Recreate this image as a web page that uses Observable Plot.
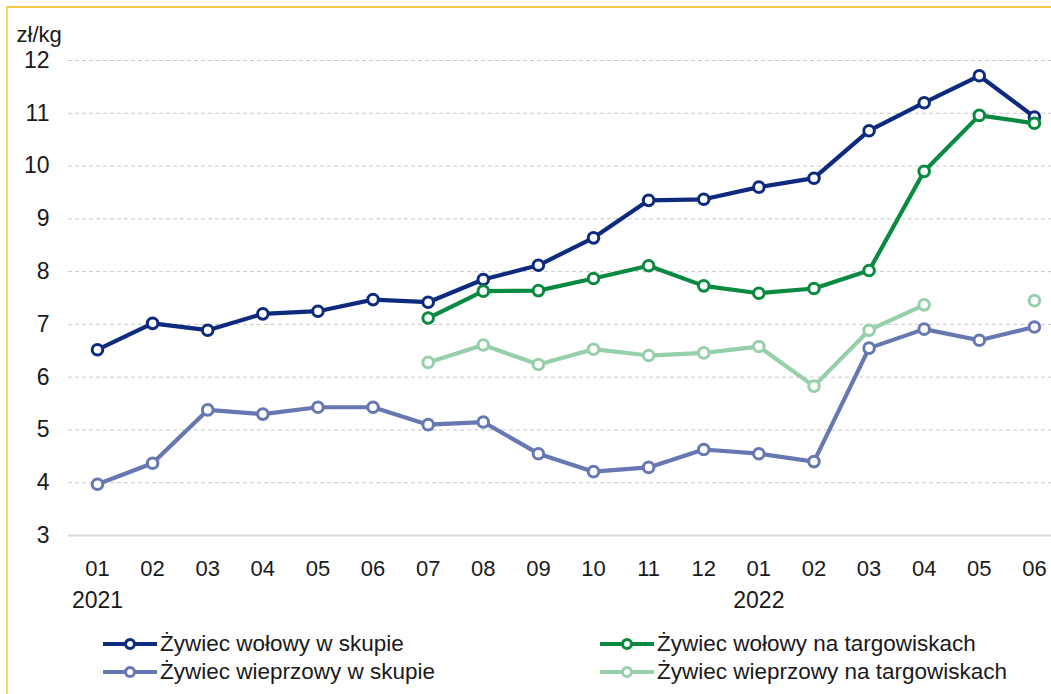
<!DOCTYPE html>
<html>
<head>
<meta charset="utf-8">
<script src="https://cdn.jsdelivr.net/npm/d3@7"></script>
<script src="https://cdn.jsdelivr.net/npm/@observablehq/plot@0.6"></script>
<style>
  html, body { margin: 0; padding: 0; background: #fff; }
  #wrap { position: relative; width: 1051px; height: 694px; overflow: hidden; background: #fff; }
  #frame { position: absolute; left: 6px; top: 6px; width: 1051px; height: 700px; border-top: 2px solid #f6c945; border-left: 2px solid #f8d56a; box-sizing: border-box; pointer-events: none; }
  #chart { position: absolute; left: 0; top: 0; }
  .leg { position: absolute; display: flex; align-items: center; font-family: "Liberation Sans", Arial, sans-serif; font-size: 22.5px; color: #1a1a1a; white-space: nowrap; height: 28px; }
  .leg svg { margin-right: 3px; }
</style>
</head>
<body>
<div id="wrap">
  <div id="chart"></div>
  <div id="legend"></div>
  <div id="frame"></div>
</div>
<script>
// ---- data ----
const months = ["01","02","03","04","05","06","07","08","09","10","11","12","01","02","03","04","05","06"];
const years = [{i: 0, label: "2021"}, {i: 12, label: "2022"}];
const yTicks = [3,4,5,6,7,8,9,10,11,12];

const seriesNames = [
  "Żywiec wołowy w skupie",
  "Żywiec wołowy na targowiskach",
  "Żywiec wieprzowy w skupie",
  "Żywiec wieprzowy na targowiskach"
];
const wolowySkup = [6.52,7.02,6.89,7.20,7.25,7.47,7.42,7.85,8.12,8.64,9.35,9.37,9.60,9.77,10.67,11.20,11.71,10.93];
const wolowyTarg = [null,null,null,null,null,null,7.12,7.63,7.64,7.87,8.11,7.73,7.59,7.68,8.02,9.90,10.96,10.81];
const wieprzSkup = [3.97,4.37,5.38,5.30,5.43,5.43,5.10,5.15,4.55,4.21,4.29,4.63,4.55,4.40,6.55,6.91,6.70,6.95];
const wieprzTarg = [null,null,null,null,null,null,6.28,6.61,6.24,6.53,6.41,6.46,6.58,5.83,6.89,7.37,null,7.45];
const colors = ["#0d2a7f", "#0a8a40", "#6677b2", "#95d0ab"];

const seriesValues = [wolowySkup, wolowyTarg, wieprzSkup, wieprzTarg];
const tables = seriesValues.map((vals, s) =>
  vals.map((v, i) => ({i, v: v == null ? NaN : v, series: seriesNames[s]}))
);

const tickFont = '"Liberation Sans", Arial, sans-serif';

const marks = [
  Plot.ruleY(yTicks.filter(d => d > 3), {stroke: "#c9c9c9", strokeWidth: 1, strokeDasharray: "4,3"}),
  Plot.ruleY([3], {stroke: "#d9d9d9", strokeWidth: 2}),
  Plot.axisY({ticks: yTicks, label: null, tickSize: 0, tickPadding: 19, fontSize: 23, fontFamily: tickFont, fill: "#1a1a1a"}),
  Plot.axisX({ticks: d3.range(months.length), label: null, tickFormat: i => months[i], tickSize: 0, tickPadding: 25, fontSize: 22, fontFamily: tickFont, fill: "#1a1a1a"}),
  Plot.text(years, {x: "i", text: "label", frameAnchor: "bottom", dy: 72, fontSize: 23, fontFamily: tickFont, fill: "#1a1a1a"}),
  Plot.text(["zł/kg"], {frameAnchor: "top-left", text: d => d, textAnchor: "start", dx: -52, dy: -34, fontSize: 22, fontFamily: tickFont, fill: "#1a1a1a"})
];
tables.forEach((t, s) => {
  marks.push(Plot.line(t, {x: "i", y: "v", stroke: colors[s], strokeWidth: 4.2, curve: "linear"}));
  marks.push(Plot.dot(t.filter(d => !isNaN(d.v)), {x: "i", y: "v", r: 5.3, fill: "white", stroke: colors[s], strokeWidth: 3}));
});

const chart = Plot.plot({
  width: 1051,
  height: 620,
  marginLeft: 68,
  marginRight: 0,
  marginTop: 60,
  marginBottom: 85,
  x: {type: "linear", domain: [-0.526, 17.31], axis: null},
  y: {domain: [3, 12], axis: null},
  style: {background: "transparent", overflow: "visible"},
  marks
});
document.getElementById("chart").appendChild(chart);

// ---- legend ----
const legendPos = [
  {left: 103, top: 630}, {left: 600, top: 630},
  {left: 103, top: 658}, {left: 600, top: 658}
];
const legend = document.getElementById("legend");
seriesNames.forEach((name, s) => {
  const div = document.createElement("div");
  div.className = "leg";
  div.style.left = legendPos[s].left + "px";
  div.style.top = legendPos[s].top + "px";
  div.innerHTML = `<svg width="54" height="16"><line x1="0" x2="54" y1="8" y2="8" stroke="${colors[s]}" stroke-width="4"/><circle cx="27" cy="8" r="4.5" fill="white" stroke="${colors[s]}" stroke-width="3"/></svg><span>${name}</span>`;
  legend.appendChild(div);
});
</script>
</body>
</html>
